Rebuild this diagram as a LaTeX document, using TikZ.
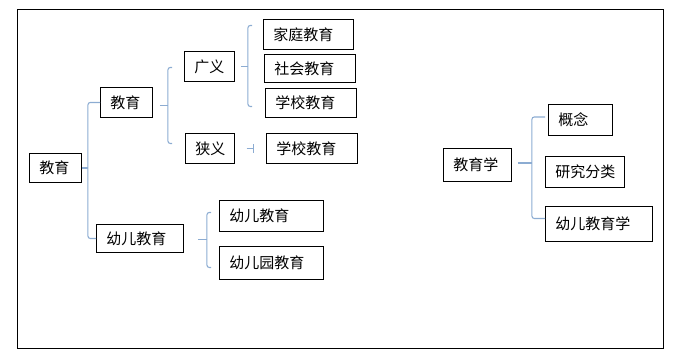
\documentclass[tikz,border=0pt]{standalone}
\usepackage{fontspec}
\newfontfamily\cjk{Noto Sans CJK SC}
\usepackage{xcolor}
\usepackage{tikz}
\usetikzlibrary{arrows.meta, calc}
\definecolor{bracketblue}{RGB}{140,172,210}
\tikzset{
  box/.style={rectangle, draw=black, line width=0.8pt, anchor=north west, align=left, inner xsep=0.3cm, inner ysep=0pt, font=\cjk\fontsize{12.8pt}{15pt}\selectfont},
  brace/.style={draw=bracketblue, line width=0.9pt, rounded corners=2pt},
  frame/.style={draw=black, line width=0.8pt}
}
\begin{document}
\begin{tikzpicture}[x=0.03cm, y=-0.03cm]
  \useasboundingbox (0,0) rectangle (688,356);
  \draw[frame] (17,9) rectangle (663,348);
  % left tree
  \node[box, text width=0.96cm, minimum height=0.87cm] (root) at (29,153) {教育};
  \node[box, text width=0.96cm, minimum height=0.9cm] (edu) at (100,87) {教育};
  \node[box, text width=2.01cm, minimum height=0.84cm] (kid) at (96,224) {幼儿教育};
  \node[box, text width=0.9cm, minimum height=0.9cm] (broad) at (184,51) {广义};
  \node[box, text width=0.86cm, minimum height=0.9cm] (narrow) at (185,133) {狭义};
  \node[box, text width=2.1cm, minimum height=0.9cm] (fam) at (263,19) {家庭教育};
  \node[box, text width=2.13cm, minimum height=0.84cm] (soc) at (264,54) {社会教育};
  \node[box, text width=2.13cm, minimum height=0.87cm] (sch1) at (265,88) {学校教育};
  \node[box, text width=2.13cm, minimum height=0.9cm] (sch2) at (266,133) {学校教育};
  \node[box, text width=2.52cm, minimum height=0.93cm] (kid1) at (219,200) {幼儿教育};
  \node[box, text width=2.52cm, minimum height=0.99cm] (kg) at (219,246) {幼儿园教育};
  % right tree
  \node[box, text width=1.44cm, minimum height=0.99cm] (ped) at (443,148) {教育学};
  \node[box, text width=1.32cm, minimum height=0.93cm] (concept) at (548,104) {概念};
  \node[box, text width=1.77cm, minimum height=0.93cm] (research) at (545,156) {研究分类};
  \node[box, text width=2.61cm, minimum height=1.05cm] (kidped) at (545,206) {幼儿教育学};

  % brackets
  \coordinate (a) at ($(root.east)+(6,0)$);
  \draw[brace] (root.east) -- (a);
  \draw[brace] (edu.west) -| (a) |- (kid.west);

  \coordinate (b) at ($(edu.east)+(15,3)$);
  \draw[brace] ($(edu.east)+(7,3)$) -- (b);
  \draw[brace] ($(broad.west)+(-12,1)$) -| (b) |- ($(narrow.west)+(-13,-5)$);

  \coordinate (c) at ($(broad.east)+(13,0)$);
  \draw[brace] ($(broad.east)+(6,0)$) -- (c);
  \draw[brace] ($(fam.west)+(-11,-9)$) -| (c) |- ($(sch1.west)+(-13,3.5)$);

  \draw[brace, -{Bar[width=7pt]}] ($(narrow.east)+(12,0)$) -- ($(sch2.west)+(-12,0)$);

  \coordinate (e) at ($(kid.east)+(23,1)$);
  \draw[brace] ($(kid.east)+(14,1)$) -- (e);
  \draw[brace] ($(kid1.west)+(-8,-3.5)$) -| (e) |- ($(kg.west)+(-8,4.5)$);

  \coordinate (f) at ($(ped.east)+(20,-2)$);
  \draw[brace] ($(ped.east)+(6,-2)$) -- (f);
  \draw[brace] ($(concept.west)+(-3,-3)$) -| (f) |- ($(kidped.west)+(0,-5.5)$);
\end{tikzpicture}
\end{document}
